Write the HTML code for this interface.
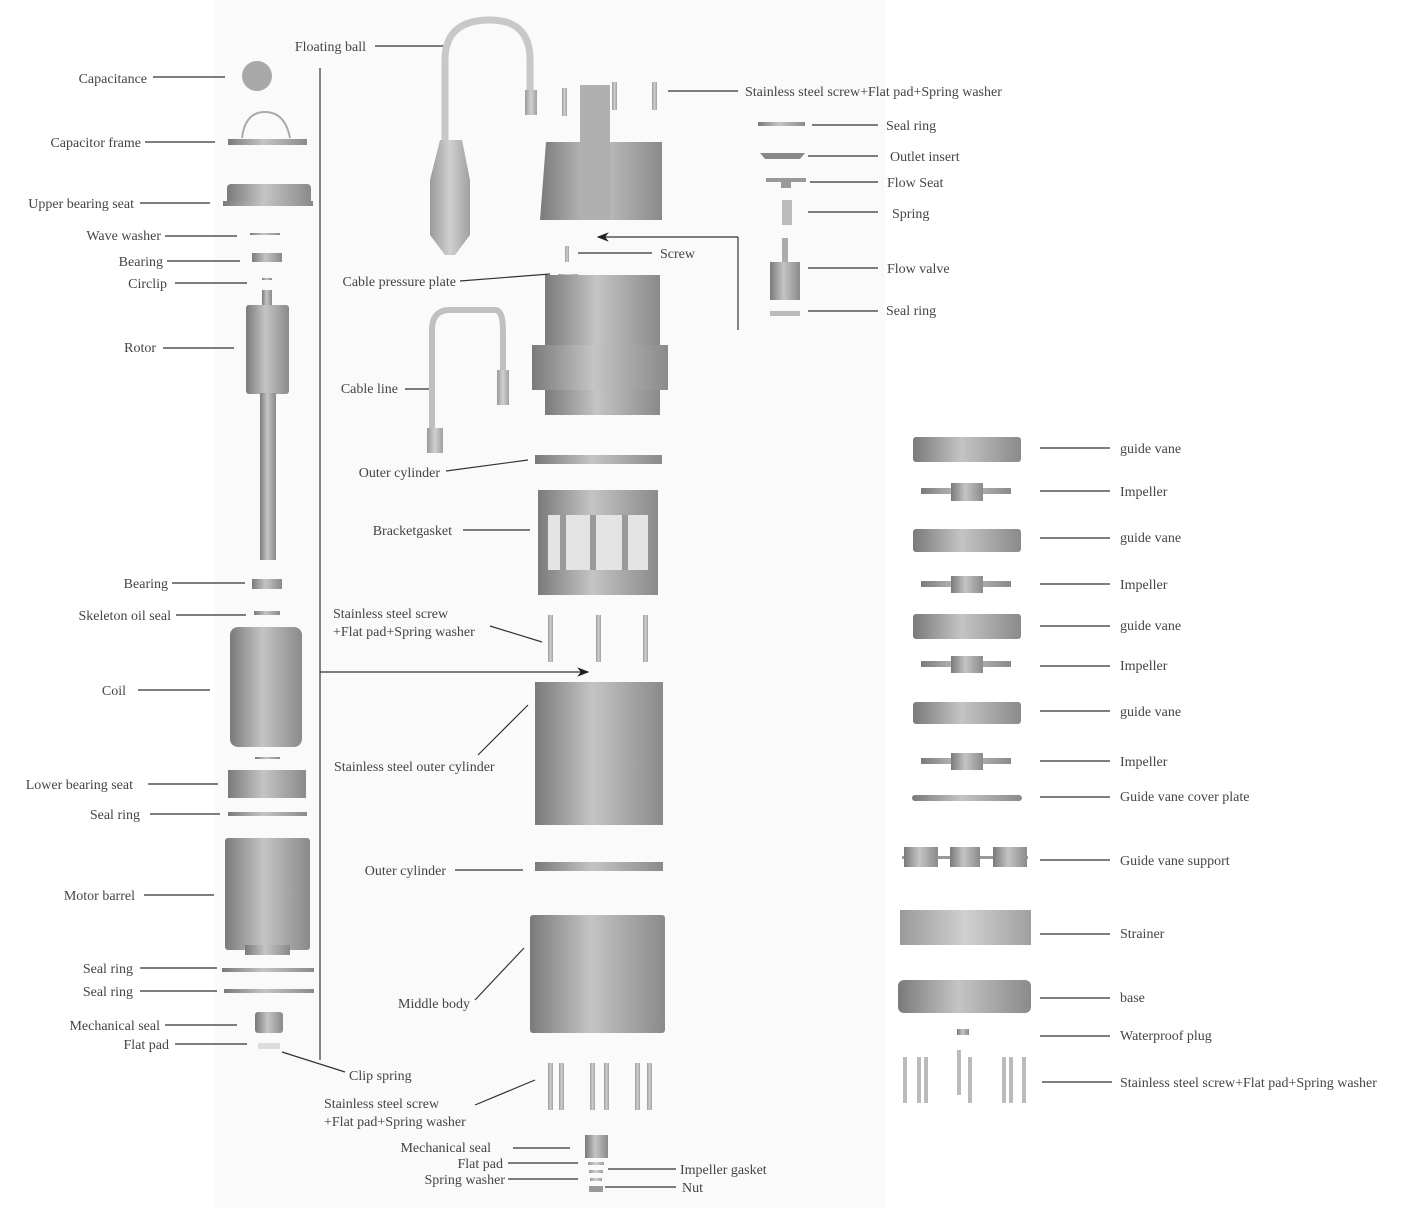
<!DOCTYPE html>
<html><head><meta charset="utf-8"><style>
html,body{margin:0;padding:0;background:#fff}
svg{display:block}
text{font-family:"Liberation Serif",serif;font-size:14px;fill:#444}
</style></head><body>
<svg width="1410" height="1208" viewBox="0 0 1410 1208" xmlns="http://www.w3.org/2000/svg">
<defs>
<linearGradient id="g" x1="0" x2="1" y1="0" y2="0">
<stop offset="0" stop-color="#7a7a7a"/><stop offset="0.45" stop-color="#c4c4c4"/><stop offset="1" stop-color="#8a8a8a"/></linearGradient>
<linearGradient id="g2" x1="0" x2="1"><stop offset="0" stop-color="#9a9a9a"/><stop offset="0.5" stop-color="#d0d0d0"/><stop offset="1" stop-color="#a0a0a0"/></linearGradient>
<marker id="ar" markerWidth="10" markerHeight="8" refX="9" refY="4" orient="auto"><path d="M0,0 L10,4 L0,8 L3,4 z" fill="#222"/></marker>
</defs>
<rect x="215" y="0" width="670" height="1208" fill="#fafafa"/>
<g stroke="#333" stroke-width="1.2" fill="none">
<line x1="153" y1="77" x2="225" y2="77"/><line x1="145" y1="142" x2="215" y2="142"/>
<line x1="140" y1="203" x2="210" y2="203"/><line x1="165" y1="236" x2="237" y2="236"/>
<line x1="167" y1="261" x2="240" y2="261"/><line x1="175" y1="283" x2="247" y2="283"/>
<line x1="163" y1="348" x2="234" y2="348"/><line x1="172" y1="583" x2="245" y2="583"/>
<line x1="176" y1="615" x2="246" y2="615"/><line x1="138" y1="690" x2="210" y2="690"/>
<line x1="148" y1="784" x2="218" y2="784"/><line x1="150" y1="814" x2="220" y2="814"/>
<line x1="144" y1="895" x2="214" y2="895"/><line x1="140" y1="968" x2="217" y2="968"/>
<line x1="140" y1="991" x2="217" y2="991"/><line x1="165" y1="1025" x2="237" y2="1025"/>
<line x1="175" y1="1044" x2="247" y2="1044"/><line x1="282" y1="1052" x2="345" y2="1072"/>
<line x1="320" y1="68" x2="320" y2="1060"/>
<line x1="320" y1="672" x2="588" y2="672" marker-end="url(#ar)"/>
<line x1="375" y1="46" x2="447" y2="46"/><line x1="460" y1="281" x2="550" y2="274"/>
<line x1="578" y1="253" x2="652" y2="253"/><line x1="405" y1="389" x2="433" y2="389"/>
<line x1="446" y1="471" x2="528" y2="460"/><line x1="463" y1="530" x2="530" y2="530"/>
<line x1="490" y1="626" x2="542" y2="642"/><line x1="478" y1="755" x2="528" y2="705"/>
<line x1="455" y1="870" x2="523" y2="870"/><line x1="475" y1="1000" x2="524" y2="948"/>
<line x1="475" y1="1105" x2="535" y2="1080"/><line x1="513" y1="1148" x2="570" y2="1148"/>
<line x1="508" y1="1163" x2="578" y2="1163"/><line x1="508" y1="1179" x2="578" y2="1179"/>
<line x1="608" y1="1169" x2="676" y2="1169"/><line x1="605" y1="1187" x2="676" y2="1187"/>
<line x1="668" y1="91" x2="738" y2="91"/><line x1="812" y1="125" x2="878" y2="125"/>
<line x1="808" y1="156" x2="878" y2="156"/><line x1="810" y1="182" x2="878" y2="182"/>
<line x1="808" y1="212" x2="878" y2="212"/><line x1="808" y1="268" x2="878" y2="268"/>
<line x1="808" y1="311" x2="878" y2="311"/>
<line x1="738" y1="237" x2="738" y2="330"/>
<line x1="738" y1="237" x2="598" y2="237" marker-end="url(#ar)"/>
<line x1="1040" y1="448" x2="1110" y2="448"/><line x1="1040" y1="491" x2="1110" y2="491"/>
<line x1="1040" y1="538" x2="1110" y2="538"/><line x1="1040" y1="584" x2="1110" y2="584"/>
<line x1="1040" y1="626" x2="1110" y2="626"/><line x1="1040" y1="666" x2="1110" y2="666"/>
<line x1="1040" y1="711" x2="1110" y2="711"/><line x1="1040" y1="761" x2="1110" y2="761"/>
<line x1="1040" y1="797" x2="1110" y2="797"/><line x1="1040" y1="860" x2="1110" y2="860"/>
<line x1="1040" y1="934" x2="1110" y2="934"/><line x1="1040" y1="998" x2="1110" y2="998"/>
<line x1="1040" y1="1036" x2="1110" y2="1036"/><line x1="1042" y1="1082" x2="1112" y2="1082"/>
</g>
<g fill="url(#g)">
<circle cx="257" cy="76" r="15" fill="#a8a8a8"/>
<path d="M242,138 Q245,112 265,112 Q285,112 290,138" fill="none" stroke="#aaa" stroke-width="2"/>
<rect x="228" y="139" width="79" height="6"/>
<rect x="227" y="184" width="84" height="22" rx="4"/><rect x="223" y="201" width="90" height="5"/>
<rect x="250" y="233" width="30" height="2"/><rect x="252" y="253" width="30" height="9"/>
<rect x="262" y="278" width="10" height="2"/>
<rect x="262" y="290" width="10" height="16"/><rect x="246" y="305" width="43" height="89" rx="3"/>
<rect x="260" y="393" width="16" height="167"/>
<rect x="252" y="579" width="30" height="10"/><rect x="254" y="611" width="26" height="4"/>
<rect x="230" y="627" width="72" height="120" rx="8"/><rect x="255" y="757" width="25" height="2"/>
<rect x="228" y="770" width="78" height="28"/><rect x="228" y="812" width="79" height="4"/>
<rect x="225" y="838" width="85" height="112" rx="3"/><rect x="245" y="945" width="45" height="10"/>
<rect x="222" y="968" width="92" height="4"/><rect x="224" y="989" width="90" height="4"/>
<rect x="255" y="1012" width="28" height="21" rx="3"/><rect x="258" y="1043" width="22" height="6" fill="#ddd"/>
</g>
<g fill="url(#g2)">
<path d="M445,150 L445,60 Q445,20 490,20 Q530,20 530,60 L530,110" fill="none" stroke="#c8c8c8" stroke-width="7"/>
<rect x="525" y="90" width="12" height="25"/>
<path d="M440,140 L462,140 L470,180 L470,235 L455,255 L445,255 L430,235 L430,180 Z"/>
<path d="M546,142 L662,142 L662,220 L540,220 Z" fill="url(#g)"/>
<rect x="580" y="85" width="30" height="135" fill="#b0b0b0"/>
<rect x="562" y="88" width="5" height="28"/><rect x="612" y="82" width="5" height="28"/><rect x="652" y="82" width="5" height="28"/>
<rect x="565" y="246" width="4" height="16"/><rect x="558" y="274" width="20" height="3"/>
<rect x="545" y="275" width="115" height="140" fill="url(#g)"/>
<rect x="532" y="345" width="136" height="45" fill="url(#g)"/>
<path d="M432,450 L432,330 Q432,310 450,310 L495,310 Q503,310 503,330 L503,400" fill="none" stroke="#c0c0c0" stroke-width="6"/>
<rect x="497" y="370" width="12" height="35"/><rect x="427" y="428" width="16" height="25"/>
<rect x="535" y="455" width="127" height="9" fill="url(#g)"/>
<rect x="538" y="490" width="120" height="105" fill="url(#g)"/>
<rect x="548" y="515" width="100" height="55" fill="#e4e4e4"/>
<rect x="560" y="515" width="6" height="55" fill="#999"/><rect x="590" y="515" width="6" height="55" fill="#999"/><rect x="622" y="515" width="6" height="55" fill="#999"/>
<rect x="548" y="615" width="5" height="47"/><rect x="596" y="615" width="5" height="47"/><rect x="643" y="615" width="5" height="47"/>
<rect x="535" y="682" width="128" height="143" fill="url(#g)"/>
<rect x="535" y="862" width="128" height="9" fill="url(#g)"/>
<rect x="530" y="915" width="135" height="118" fill="url(#g)" rx="3"/>
<rect x="548" y="1063" width="5" height="47"/><rect x="559" y="1063" width="5" height="47"/>
<rect x="590" y="1063" width="5" height="47"/><rect x="604" y="1063" width="5" height="47"/>
<rect x="635" y="1063" width="5" height="47"/><rect x="647" y="1063" width="5" height="47"/>
<rect x="585" y="1135" width="23" height="23" fill="url(#g)"/>
<rect x="588" y="1162" width="16" height="3"/><rect x="589" y="1170" width="14" height="3"/><rect x="590" y="1178" width="12" height="3"/>
<rect x="589" y="1186" width="14" height="6" fill="#999"/>
<rect x="758" y="122" width="47" height="4" fill="url(#g)"/>
<path d="M760,153 L805,153 L800,159 L765,159 Z" fill="#888"/>
<rect x="766" y="178" width="40" height="4" fill="#999"/><rect x="781" y="182" width="10" height="6" fill="#999"/>
<rect x="782" y="200" width="10" height="25" fill="#bbb"/>
<rect x="782" y="238" width="6" height="25" fill="#aaa"/><rect x="770" y="262" width="30" height="38" fill="url(#g)"/>
<rect x="770" y="311" width="30" height="5" fill="#bbb"/>
</g>
<g fill="url(#g)">
<rect x="913" y="437" width="108" height="25" rx="3"/><rect x="913" y="529" width="108" height="23" rx="3"/>
<rect x="913" y="614" width="108" height="25" rx="3"/><rect x="913" y="702" width="108" height="22" rx="3"/>
<rect x="921" y="488" width="90" height="6"/><rect x="951" y="483" width="32" height="18"/>
<rect x="921" y="581" width="90" height="6"/><rect x="951" y="576" width="32" height="17"/>
<rect x="921" y="661" width="90" height="6"/><rect x="951" y="656" width="32" height="17"/>
<rect x="921" y="758" width="90" height="6"/><rect x="951" y="753" width="32" height="17"/>
<rect x="912" y="795" width="110" height="6" rx="3"/>
<rect x="902" y="856" width="126" height="3" fill="#999"/>
<rect x="904" y="847" width="34" height="20"/><rect x="950" y="847" width="30" height="20"/><rect x="993" y="847" width="34" height="20"/>
<rect x="900" y="910" width="131" height="35" fill="url(#g2)"/>
<rect x="898" y="980" width="133" height="33" rx="6"/>
<rect x="957" y="1029" width="12" height="6"/>
<rect x="903" y="1057" width="4" height="46" fill="#bbb"/><rect x="917" y="1057" width="4" height="46" fill="#bbb"/><rect x="924" y="1057" width="4" height="46" fill="#bbb"/>
<rect x="957" y="1050" width="4" height="45" fill="#bbb"/><rect x="968" y="1057" width="4" height="46" fill="#bbb"/>
<rect x="1002" y="1057" width="4" height="46" fill="#bbb"/><rect x="1009" y="1057" width="4" height="46" fill="#bbb"/><rect x="1022" y="1057" width="4" height="46" fill="#bbb"/>
</g>
<g text-anchor="end">
<text x="147" y="83">Capacitance</text><text x="141" y="147">Capacitor frame</text>
<text x="134" y="208">Upper bearing seat</text><text x="161" y="240">Wave washer</text>
<text x="163" y="266">Bearing</text><text x="167" y="288">Circlip</text>
<text x="156" y="352">Rotor</text><text x="168" y="588">Bearing</text>
<text x="171" y="620">Skeleton oil seal</text><text x="126" y="695">Coil</text>
<text x="133" y="789">Lower bearing seat</text><text x="140" y="819">Seal ring</text>
<text x="135" y="900">Motor barrel</text><text x="133" y="973">Seal ring</text>
<text x="133" y="996">Seal ring</text><text x="160" y="1030">Mechanical seal</text>
<text x="169" y="1049">Flat pad</text>
<text x="366" y="51">Floating ball</text><text x="456" y="286">Cable pressure plate</text>
<text x="398" y="393">Cable line</text><text x="440" y="477">Outer cylinder</text>
<text x="452" y="535">Bracketgasket</text><text x="446" y="875">Outer cylinder</text>
<text x="470" y="1008">Middle body</text><text x="491" y="1152">Mechanical seal</text>
<text x="503" y="1168">Flat pad</text><text x="505" y="1184">Spring washer</text>
</g>
<text x="349" y="1080">Clip spring</text>
<text x="660" y="258">Screw</text>
<text x="333" y="618">Stainless steel screw</text><text x="333" y="636">+Flat pad+Spring washer</text>
<text x="334" y="771">Stainless steel outer cylinder</text>
<text x="324" y="1108">Stainless steel screw</text><text x="324" y="1126">+Flat pad+Spring washer</text>
<text x="680" y="1174">Impeller gasket</text><text x="682" y="1192">Nut</text>
<text x="745" y="96">Stainless steel screw+Flat pad+Spring washer</text>
<text x="886" y="130">Seal ring</text><text x="890" y="161">Outlet insert</text>
<text x="887" y="187">Flow Seat</text><text x="892" y="218">Spring</text>
<text x="887" y="273">Flow valve</text><text x="886" y="315">Seal ring</text>
<text x="1120" y="453">guide vane</text><text x="1120" y="496">Impeller</text>
<text x="1120" y="542">guide vane</text><text x="1120" y="589">Impeller</text>
<text x="1120" y="630">guide vane</text><text x="1120" y="670">Impeller</text>
<text x="1120" y="716">guide vane</text><text x="1120" y="766">Impeller</text>
<text x="1120" y="801">Guide vane cover plate</text><text x="1120" y="865">Guide vane support</text>
<text x="1120" y="938">Strainer</text><text x="1120" y="1002">base</text>
<text x="1120" y="1040">Waterproof plug</text>
<text x="1120" y="1087">Stainless steel screw+Flat pad+Spring washer</text>
</svg>
</body></html>
